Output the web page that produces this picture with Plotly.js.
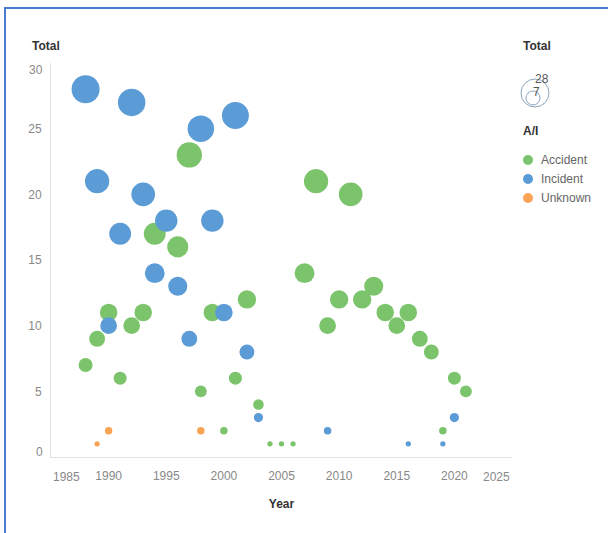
<!DOCTYPE html>
<html>
<head>
<meta charset="utf-8">
<script src="https://cdn.plot.ly/plotly-3.0.1.min.js"></script>
<style>
  html, body { margin: 0; padding: 0; background: #fff; }
  #wrap { position: relative; width: 608px; height: 533px; overflow: hidden; }
  #chart { position: absolute; left: 0; top: 0; width: 608px; height: 533px; }
  #frame { position: absolute; left: 4px; top: 7px; right: -4px; bottom: -4px;
           border-top: 2px solid #4a7bd0; border-left: 2px solid #4a7bd0; pointer-events: none; }
</style>
</head>
<body>
<div id="wrap"><div id="chart"></div><div id="frame"></div></div>
<script>
// ---- data ----
const categories = ["Accident", "Incident", "Unknown"];
const colors = ["#7cc46b", "#5b9bd6", "#f9a454"];

const accidentYears  = [1988, 1989, 1990, 1991, 1992, 1993, 1994, 1996, 1997, 1998, 1999, 2000, 2001, 2002, 2003, 2004, 2005, 2006, 2007, 2008, 2009, 2010, 2011, 2012, 2013, 2014, 2015, 2016, 2017, 2018, 2019, 2020, 2021];
const accidentTotals = [7,    9,    11,   6,    10,   11,   17,   16,   23,   5,    11,   2,    6,    12,   4,    1,    1,    1,    14,   21,   10,   12,   20,   12,   13,   11,   10,   11,   9,    8,    2,    6,    5];

const incidentYears  = [1988, 1989, 1990, 1991, 1992, 1993, 1994, 1995, 1996, 1997, 1998, 1999, 2000, 2001, 2002, 2003, 2009, 2016, 2019, 2020];
const incidentTotals = [28,   21,   10,   17,   27,   20,   14,   18,   13,   9,    25,   18,   11,   26,   8,    3,    2,    1,    1,    3];

const unknownYears  = [1989, 1990, 1998];
const unknownTotals = [1,    2,    2];

const xTicks = [1985, 1990, 1995, 2000, 2005, 2010, 2015, 2020, 2025];
const yTicks = [0, 5, 10, 15, 20, 25, 30];
const sizeLegendValues = [28, 7];

// ---- layout constants ----
const W = 608, H = 533;
const M = { l: 51, r: 96, t: 63, b: 76, autoexpand: false };
const PW = W - M.l - M.r, PH = H - M.t - M.b;
const px = x => (x - M.l) / PW;
const py = y => (H - M.b - y) / PH;

const maxTotal = Math.max(...accidentTotals, ...incidentTotals, ...unknownTotals);
const maxDiam = 28;
const sizeref = 2 * maxTotal / (maxDiam * maxDiam);
const diam = v => Math.sqrt(2 * v / sizeref);
const FONT = "Liberation Sans, Arial, sans-serif";
const TICK_FONT = { family: FONT, size: 12, color: "#888" };

function trace(name, xs, ys, color) {
  return {
    type: "scatter", mode: "markers", name: name,
    x: xs, y: ys,
    marker: { color: color, size: ys, sizemode: "area", sizeref: sizeref, sizemin: 1, line: { width: 0 }, opacity: 1 },
    hovertemplate: "Year %{x}<br>Total %{y}<extra>" + name + "</extra>"
  };
}

const data = [
  trace(categories[0], accidentYears, accidentTotals, colors[0]),
  trace(categories[1], incidentYears, incidentTotals, colors[1]),
  trace(categories[2], unknownYears, unknownTotals, colors[2])
];

function pixCircle(cx, cy, d, line, fill) {
  return { type: "circle", xref: "paper", yref: "paper", xsizemode: "pixel", ysizemode: "pixel",
    xanchor: px(cx), yanchor: py(cy), x0: -d/2, x1: d/2, y0: -d/2, y1: d/2,
    line: line, fillcolor: fill, layer: "above" };
}
function label(text, x, y, anchor, color, bold) {
  return { text: bold ? "<b>" + text + "</b>" : text, xref: "paper", yref: "paper",
    x: px(x), y: py(y), xanchor: anchor, yanchor: "middle", showarrow: false,
    font: { family: FONT, size: 12, color: color } };
}

// size legend circles (diameters from the same area scale)
const dBig = diam(sizeLegendValues[0]);
const dSmall = diam(sizeLegendValues[1]);
const shapes = [
  pixCircle(535, 93, dBig, { color: "#8aa6bf", width: 1 }, "rgba(0,0,0,0)"),
  pixCircle(533, 93 + dBig/2 - dSmall/2 - 2, dSmall, { color: "#8aa6bf", width: 1 }, "rgba(0,0,0,0)")
];

const annotations = [
  label("Total", 30, 46, "left", "#333", true),
  label("Total", 521, 46, "left", "#333", true),
  label(String(sizeLegendValues[0]), 541.5, 79, "center", "#555", false),
  label(String(sizeLegendValues[1]), 536, 92, "center", "#555", false),
  label("A/I", 521, 131, "left", "#333", true)
];

// color legend (drawn from the categories / colors arrays)
categories.forEach((c, i) => {
  const yy = 160 + i * 19;
  shapes.push(pixCircle(528, yy, 10, { width: 0 }, colors[i]));
  annotations.push(label(c, 539, yy, "left", "#666", false));
});

// flush end tick labels (first/last label kept inside the axis extent)
const xFirst = xTicks[0], xLast = xTicks[xTicks.length - 1];
const yFirst = yTicks[0], yLast = yTicks[yTicks.length - 1];
annotations.push(
  { text: String(xFirst), xref: "x", yref: "paper", x: xFirst, y: 0, xanchor: "left", yanchor: "top", yshift: -11, showarrow: false, font: TICK_FONT },
  { text: String(xLast), xref: "x", yref: "paper", x: xLast, y: 0, xanchor: "right", yanchor: "top", yshift: -11, showarrow: false, font: TICK_FONT },
  { text: String(yFirst), xref: "paper", yref: "y", x: 0, y: yFirst, xanchor: "right", yanchor: "bottom", xshift: -6, yshift: -4, showarrow: false, font: TICK_FONT },
  { text: String(yLast), xref: "paper", yref: "y", x: 0, y: yLast, xanchor: "right", yanchor: "top", xshift: -6, yshift: 2, showarrow: false, font: TICK_FONT }
);
const xInner = xTicks.slice(1, -1);
const yInner = yTicks.slice(1, -1);

const layout = {
  width: W, height: H,
  margin: M,
  paper_bgcolor: "rgba(0,0,0,0)", plot_bgcolor: "#fff",
  font: { family: FONT, size: 12, color: "#888" },
  showlegend: false,
  xaxis: {
    range: [xFirst, xLast], tickvals: xInner, ticktext: xInner.map(String),
    showgrid: false, zeroline: false, showline: true, linecolor: "#e2e2e2", linewidth: 1,
    ticks: "", ticklabelstandoff: 8,
    tickfont: TICK_FONT,
    title: { text: "<b>Year</b>", font: { family: FONT, size: 12, color: "#333" }, standoff: 17 }
  },
  yaxis: {
    range: [yFirst, yLast], tickvals: yInner, ticktext: yInner.map(String),
    showgrid: false, zeroline: false, showline: true, linecolor: "#e2e2e2", linewidth: 1,
    ticks: "", ticklabelstandoff: 6,
    tickfont: TICK_FONT
  },
  shapes: shapes,
  annotations: annotations
};

Plotly.newPlot("chart", data, layout, { displayModeBar: false, staticPlot: true });
</script>
</body>
</html>
